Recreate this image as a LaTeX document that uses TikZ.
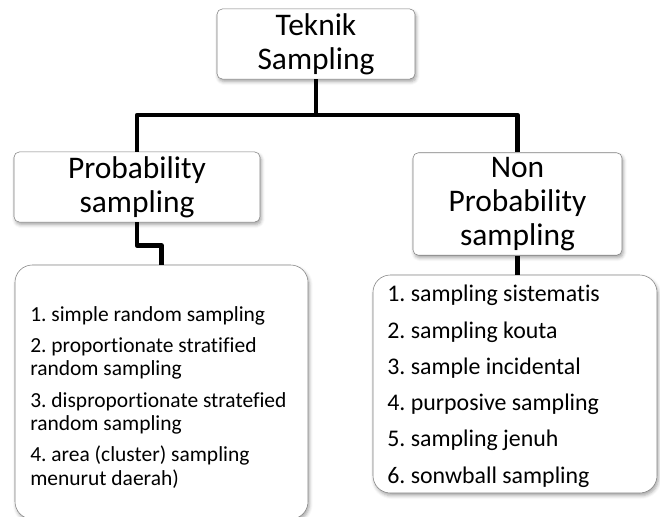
\documentclass[tikz,border=0pt]{standalone}
\usepackage{fontspec}
\setmainfont{Carlito}[Ligatures=NoCommon]
\usetikzlibrary{positioning, shadows.blur}
\tikzstyle{link} = [line width=3.5pt, line join=round]
\frenchspacing

\begin{document}
\begin{tikzpicture}[
    x=0.75pt, y=-0.75pt,
    headbox/.style={rectangle, draw=black!50, rounded corners=4pt, fill=white, align=center, font=\fontsize{23.6}{25.5}\selectfont, blur shadow={shadow xshift=1pt, shadow yshift=-2pt, shadow blur radius=2.5pt, shadow opacity=35}},
    listbox/.style={rectangle, draw=black!50, rounded corners=13pt, fill=white, blur shadow={shadow xshift=1pt, shadow yshift=-2pt, shadow blur radius=2.5pt, shadow opacity=35}},
    listtext/.style={anchor=north west, inner sep=0pt, align=left}
  ]
    \useasboundingbox (0,0) rectangle (660,517);

    % Level 1
    \node[headbox, minimum width=148.5pt, minimum height=48pt] (teknik) at (316,44) {Teknik\\Sampling};

    % Level 2
    \node[headbox, minimum width=184.5pt, minimum height=49.5pt] (prob) at (137,187) {Probability\\sampling};
    \node[headbox, minimum width=156.75pt, minimum height=73.5pt] (nonprob) at (517.5,204) {Non\\Probability\\sampling};

    % Lists
    \node[listbox, minimum width=219.75pt, minimum height=190.5pt] (problist) at (161.5,392) {};
    \node[listtext, font=\fontsize{16.1}{17.8}\selectfont] (probitems) at (30,306) {1. simple random sampling\\[5.5pt]
      2. proportionate stratified\\random sampling\\[5.5pt]
      3. disproportionate stratefied\\random sampling\\[5.5pt]
      4. area (cluster) sampling\\menurut daerah)};

    \node[listbox, minimum width=213pt, minimum height=163.5pt] (nonproblist) at (515,384) {};
    \node[listtext, font=\fontsize{17.9}{27.2}\selectfont] (nonprobitems) at (387,285) {1. sampling sistematis\\
      2. sampling kouta\\
      3. sample incidental\\
      4. purposive sampling\\
      5. sampling jenuh\\
      6. sonwball sampling};

    % Connectors
    \coordinate (bus) at (316,115);
    \draw[link] (teknik.south) -- (bus);
    \draw[link] (prob.north) |- (bus) -| (nonprob.north);
    \draw[link] (prob.south) -- ++(0,23) -| (problist.north);
    \draw[link] (nonprob.south) -- (nonprob.south |- nonproblist.north);
  \end{tikzpicture}
\end{document}
